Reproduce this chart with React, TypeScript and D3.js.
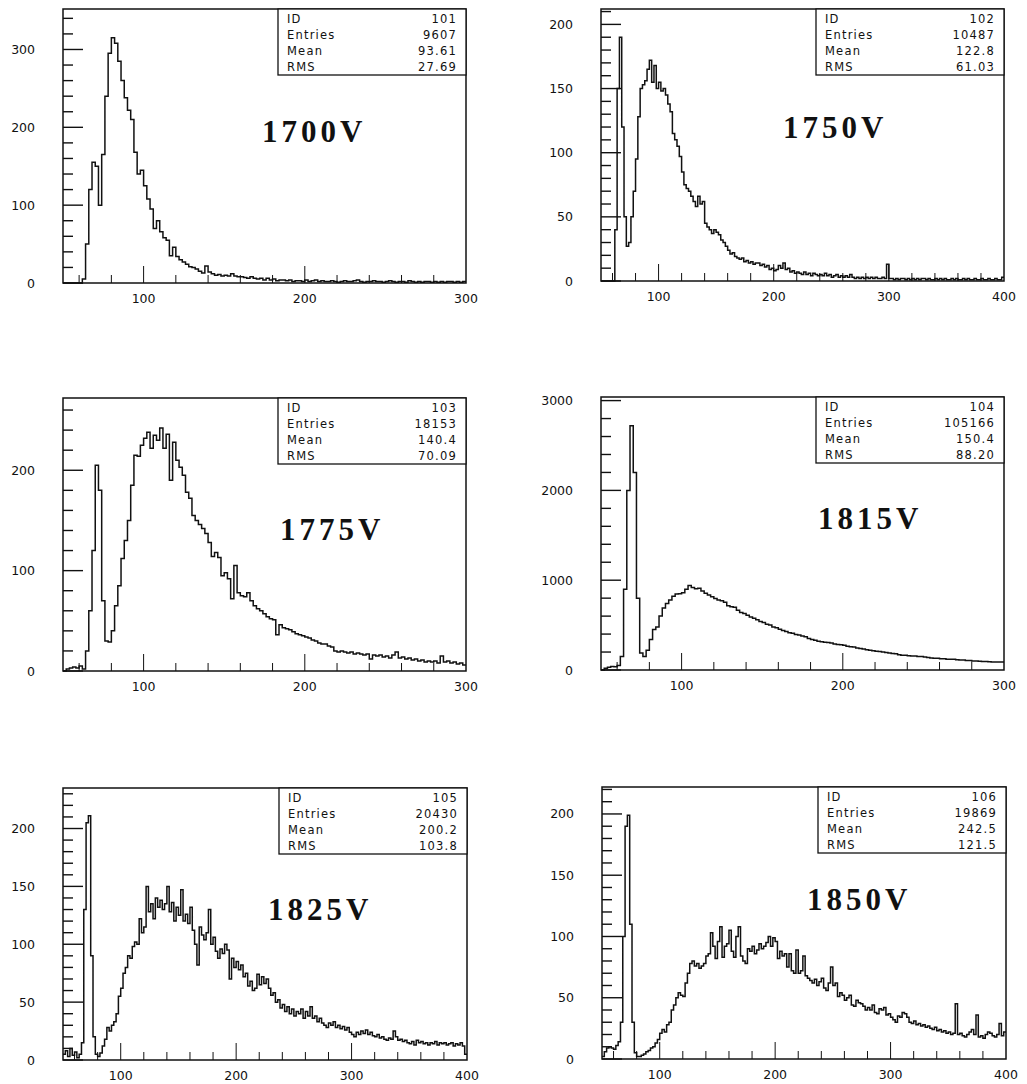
import React from 'react';
import * as d3 from 'd3';

const X_START = 50;
const BIN_WIDTH = 2;

const voltageLabels = ['1700V', '1750V', '1775V', '1815V', '1825V', '1850V'];
const histIds = ['101', '102', '103', '104', '105', '106'];
const entryCounts = ['9607', '10487', '18153', '105166', '20430', '19869'];
const meanValues = ['93.61', '122.8', '140.4', '150.4', '200.2', '242.5'];
const rmsValues = ['27.69', '61.03', '70.09', '88.20', '103.8', '121.5'];
const xMaxes = [300, 400, 300, 300, 400, 400];
const yMaxes = [352, 212, 272, 3040, 235, 222];
const yMajorSteps = [100, 50, 100, 1000, 50, 50];
const yMinorSteps = [20, 10, 20, 200, 10, 10];

const counts1700 = [
  0, 0, 0, 0, 0, 0, 5, 50, 120, 155,
  150, 100, 165, 240, 295, 315, 308, 285, 260, 238,
  222, 210, 168, 140, 145, 125, 108, 95, 70, 80,
  66, 58, 55, 35, 46, 34, 30, 27, 24, 21,
  20, 18, 15, 13, 22, 14, 12, 10, 11, 9,
  10, 9, 12, 9, 8, 8, 7, 6, 8, 6,
  5, 6, 4, 6, 4, 5, 3, 4, 4, 3,
  4, 2, 3, 3, 2, 4, 2, 3, 4, 2,
  3, 2, 2, 3, 2, 1, 2, 3, 2, 2,
  3, 4, 2, 1, 2, 2, 3, 2, 2, 1,
  2, 3, 2, 1, 2, 2, 1, 3, 2, 1,
  2, 1, 2, 2, 1, 2, 1, 2, 1, 2,
  2, 1, 2, 1, 2,
];

const counts1750 = [
  0, 0, 0, 0, 0, 0, 40, 150, 190, 120,
  50, 27, 30, 50, 70, 95, 128, 150, 153, 156,
  165, 172, 155, 168, 150, 155, 148, 150, 145, 138,
  132, 115, 110, 105, 97, 85, 75, 72, 70, 66,
  62, 58, 66, 60, 62, 45, 42, 40, 37, 40,
  38, 36, 32, 30, 27, 24, 21, 22, 19, 18,
  17, 18, 15, 16, 14, 15, 13, 14, 14, 12,
  13, 11, 12, 9, 10, 8, 9, 12, 10, 14,
  9, 10, 7, 8, 6, 7, 6, 5, 7, 5,
  6, 4, 6, 5, 4, 5, 4, 6, 4, 5,
  3, 4, 5, 3, 4, 3, 4, 3, 5, 3,
  2, 3, 2, 3, 2, 3, 2, 3, 2, 3,
  2, 2, 3, 2, 13, 2, 2, 1, 2, 1,
  2, 2, 1, 2, 1, 2, 1, 2, 1, 2,
  2, 1, 2, 1, 1, 2, 1, 2, 1, 2,
  1, 1, 2, 1, 2, 1, 1, 2, 1, 2,
  1, 1, 2, 1, 1, 2, 1, 1, 2, 1,
  1, 2, 1, 1, 3,
];

const counts1775 = [
  0, 2, 3, 4, 3, 5, 2, 20, 60, 120,
  205, 180, 70, 30, 29, 40, 65, 85, 112, 130,
  150, 185, 215, 214, 225, 232, 238, 222, 235, 230,
  242, 222, 236, 190, 228, 210, 203, 195, 178, 172,
  155, 150, 146, 142, 137, 128, 114, 118, 113, 95,
  98, 92, 72, 105, 78, 75, 74, 78, 70, 65,
  62, 60, 57, 54, 52, 51, 36, 46, 43, 42,
  41, 39, 37, 36, 35, 34, 33, 31, 30, 28,
  27, 27, 25, 24, 20, 19, 20, 19, 18, 19,
  17, 18, 17, 16, 17, 12, 16, 15, 16, 14,
  15, 13, 16, 19, 13, 14, 12, 13, 11, 12,
  10, 11, 9, 10, 9, 10, 8, 15, 9, 10,
  8, 9, 7, 8, 6,
];

const counts1815 = [
  0, 20, 30, 40, 35, 50, 150, 900, 2000, 2720,
  2200, 800, 190, 150, 220, 340, 450, 480, 600, 690,
  740, 780, 820, 845, 850, 860, 900, 940, 920, 905,
  910, 880, 855, 835, 815, 795, 780, 770, 755, 715,
  705, 700, 665, 640, 630, 610, 590, 575, 560, 540,
  530, 510, 500, 480, 470, 455, 440, 430, 415, 410,
  395, 390, 380, 370, 350, 340, 330, 320, 315, 310,
  305, 300, 290, 285, 280, 275, 265, 260, 255, 245,
  240, 235, 225, 220, 215, 210, 205, 200, 195, 190,
  185, 180, 170, 165, 165, 160, 155, 155, 150, 150,
  145, 140, 135, 130, 130, 125, 125, 120, 120, 120,
  115, 110, 110, 105, 105, 100, 100, 98, 95, 95,
  92, 90, 90, 88, 90,
];

const counts1825 = [
  5, 8, 3, 10, 4, 7, 2, 5, 15, 130,
  205, 211, 90, 20, 5, 3, 6, 12, 18, 28,
  25, 30, 33, 40, 55, 62, 75, 80, 90, 88,
  98, 102, 100, 122, 110, 115, 150, 128, 135, 122,
  140, 132, 138, 130, 135, 150, 128, 136, 120, 132,
  125, 147, 120, 126, 118, 132, 112, 100, 82, 115,
  108, 104, 110, 130, 100, 106, 94, 88, 96, 92,
  100, 95, 70, 88, 80, 85, 78, 82, 72, 75,
  64, 68, 60, 62, 74, 65, 72, 66, 70, 62,
  56, 58, 50, 52, 45, 48, 42, 46, 40, 44,
  38, 42, 40, 44, 36, 42, 38, 46, 36, 38,
  33, 36, 32, 30, 28, 32, 30, 33, 28, 30,
  27, 29, 26, 28, 24, 22, 20, 24, 22, 25,
  23, 26, 22, 24, 21, 20, 22, 19, 20, 18,
  17, 19, 18, 25, 20, 17, 18, 16, 17, 15,
  14, 16, 13, 17, 15, 16, 14, 15, 13, 15,
  14, 16, 13, 15, 14, 15, 13, 14, 15, 12,
  14, 13, 15, 12, 5,
];

const counts1850 = [
  2, 6, 9, 10, 9, 8, 11, 14, 30, 100,
  190, 199, 110, 30, 5, 2, 2, 3, 4, 6,
  7, 9, 10, 13, 16, 21, 24, 22, 28, 30,
  40, 44, 50, 54, 52, 51, 62, 70, 78, 80,
  76, 78, 74, 76, 78, 84, 86, 103, 92, 82,
  96, 108, 83, 92, 94, 105, 88, 83, 100, 108,
  84, 80, 78, 90, 88, 92, 86, 89, 94, 90,
  92, 95, 100, 92, 99, 96, 82, 88, 84, 86,
  75, 86, 72, 70, 89, 70, 72, 84, 68, 66,
  64, 62, 65, 60, 63, 66, 58, 56, 62, 75,
  60, 62, 51, 54, 52, 48, 50, 52, 44, 43,
  48, 46, 45, 43, 40, 42, 40, 44, 38, 37,
  41, 40, 42, 36, 37, 34, 32, 30, 35, 34,
  38, 37, 34, 30, 29, 31, 28, 29, 27, 28,
  26, 27, 25, 24, 26, 23, 24, 22, 23, 21,
  22, 20, 21, 45, 20, 21, 19, 18, 20, 22,
  24, 20, 36, 18, 19, 17, 20, 22, 21, 19,
  18, 20, 29, 19, 22,
];

const allCounts = [counts1700, counts1750, counts1775, counts1815, counts1825, counts1850];

// layout (page pixels)
const FRAMES = [
  [63, 9, 466, 283],
  [601, 9, 1004, 281],
  [63, 398, 466, 671],
  [601, 397, 1004, 670],
  [63, 788, 467, 1060],
  [602, 787, 1006, 1059],
];
const LABEL_POS = [
  [262, 142],
  [783, 138],
  [280, 540],
  [818, 529],
  [268, 920],
  [807, 910],
];

const TICK_FONT = "'DejaVu Sans', sans-serif";

function Panel({ i }: { i: number }) {
  const [l, t, r, b] = FRAMES[i];
  const counts = allCounts[i];
  const xMax = xMaxes[i];
  const yMax = yMaxes[i];
  const x = d3.scaleLinear().domain([X_START, xMax]).range([l, r]);
  const y = d3.scaleLinear().domain([0, yMax]).range([b, t]);

  const pts: [number, number][] = counts.map((c, k) => [x(X_START + k * BIN_WIDTH), y(c)]);
  pts.push([x(X_START + counts.length * BIN_WIDTH), y(counts[counts.length - 1])]);
  const path = d3.line().curve(d3.curveStepAfter)(pts) || '';

  const yMajor = yMajorSteps[i];
  const yMinor = yMinorSteps[i];
  const yTicks = d3.range(0, yMax + 0.001, yMinor);
  const yLabels = d3.range(0, yMax + 0.001, yMajor);
  const xTicks = d3.range(60, xMax, 20);
  const xLabels = d3.range(100, xMax + 1, 100);

  const boxW = 188;
  const boxH = 66;
  const bx = r - boxW;
  const rows = [
    ['ID', histIds[i]],
    ['Entries', entryCounts[i]],
    ['Mean', meanValues[i]],
    ['RMS', rmsValues[i]],
  ];

  const isMajorY = (v: number) => Math.abs(v / yMajor - Math.round(v / yMajor)) < 1e-6;

  return (
    <g>
      <path d={path} fill="none" stroke="#111" strokeWidth={1.5} />
      {yTicks.map((v) => (
        <line
          key={'yt' + v}
          x1={l}
          x2={l + (isMajorY(v) ? 20 : 10)}
          y1={y(v)}
          y2={y(v)}
          stroke="#111"
          strokeWidth={1.4}
        />
      ))}
      {xTicks.map((v) => (
        <line
          key={'xt' + v}
          x1={x(v)}
          x2={x(v)}
          y1={b}
          y2={b - (v % 100 === 0 ? 17 : 8)}
          stroke="#111"
          strokeWidth={1}
        />
      ))}
      <rect x={l} y={t} width={r - l} height={b - t} fill="none" stroke="#111" strokeWidth={1.5} />
      {yLabels.map((v) => (
        <text
          key={'yl' + v}
          x={l - 28}
          y={y(v)}
          dy="0.36em"
          textAnchor="end"
          fontFamily={TICK_FONT}
          fontSize={12.5}
          fill="#111"
        >
          {v}
        </text>
      ))}
      {xLabels.map((v) => (
        <text
          key={'xl' + v}
          x={x(v)}
          y={b + 20}
          textAnchor="middle"
          fontFamily={TICK_FONT}
          fontSize={12.5}
          fill="#111"
        >
          {v}
        </text>
      ))}
      <rect x={bx} y={t} width={boxW} height={boxH} fill="#fff" stroke="#111" strokeWidth={1.3} />
      {rows.map((row, k) => (
        <g key={'row' + k}>
          <text
            x={bx + 9}
            y={t + 14 + k * 16}
            fontFamily={TICK_FONT}
            fontSize={11.5}
            letterSpacing={1.2}
            fill="#111"
          >
            {row[0]}
          </text>
          <text
            x={r - 9}
            y={t + 14 + k * 16}
            textAnchor="end"
            fontFamily={TICK_FONT}
            fontSize={11.5}
            letterSpacing={1.2}
            fill="#111"
          >
            {row[1]}
          </text>
        </g>
      ))}
      <text
        x={LABEL_POS[i][0]}
        y={LABEL_POS[i][1]}
        fontFamily="'Liberation Serif', 'DejaVu Serif', serif"
        fontWeight="bold"
        fontSize={31}
        letterSpacing={4}
        fill="#111"
      >
        {voltageLabels[i]}
      </text>
    </g>
  );
}

export default function App() {
  return (
    <svg
      width={1027}
      height={1084}
      style={{ position: 'absolute', left: 0, top: 0, background: '#fff' }}
    >
      <rect x={0} y={0} width={1027} height={1084} fill="#fff" />
      {voltageLabels.map((_, i) => (
        <Panel key={i} i={i} />
      ))}
    </svg>
  );
}
